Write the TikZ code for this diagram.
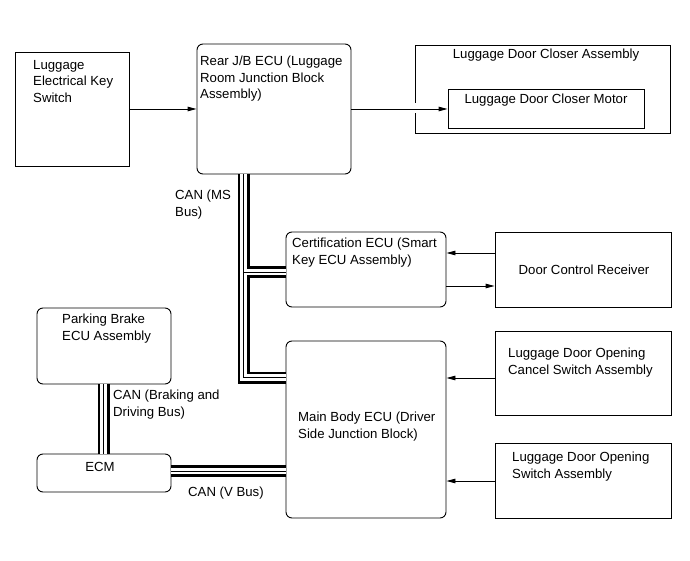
\documentclass[tikz,border=0pt]{standalone}
\usepackage{fontspec}
\setmainfont{Liberation Sans}
\usetikzlibrary{arrows.meta,calc}
\begin{document}
\begin{tikzpicture}[x=1pt,y=-1pt,
  box/.style={draw=black, line width=0.9pt, inner sep=0pt, minimum width=#1},
  rbox/.style={box=#1, rounded corners=6pt},
  txt/.style={inner sep=0pt, align=left, anchor=north west, font=\fontsize{13.2}{16.5}\selectfont},
  ctxt/.style={inner sep=0pt, align=center, anchor=center, font=\fontsize{13.2}{16.5}\selectfont},
  arr/.style={draw=black, line width=0.9pt, -{Triangle[length=9pt,width=4.5pt]}},
  busA/.style={draw=black, line width=12pt},
  busB/.style={draw=white, line width=6.5pt},
  busC/.style={draw=black, line width=0.9pt}
]
\useasboundingbox[fill=white] (0,0) rectangle (690,561);

% boxes
\node[box=114pt, minimum height=114pt] (leks) at (72,109) {};
\node[rbox=154pt, minimum height=130pt] (rear) at (274,109) {};
\node[box=255pt, minimum height=88pt] (ldca) at (542.5,89) {};
\node[box=196pt, minimum height=39pt] (motor) at (546,108.5) {};
\node[rbox=160pt, minimum height=75pt] (cert) at (366,269.5) {};
\node[box=176pt, minimum height=75pt] (dcr) at (583,269.5) {};
\node[rbox=160pt, minimum height=177pt] (main) at (366,429.5) {};
\node[box=176pt, minimum height=84pt] (cancel) at (583,373) {};
\node[box=176pt, minimum height=75pt] (opensw) at (583,480.5) {};
\node[rbox=134pt, minimum height=76pt] (pb) at (104,346) {};
\node[rbox=134pt, minimum height=38pt] (ecm) at (104,473) {};

% texts
\node[txt] (leksT) at (33,60) {Luggage\\Electrical Key\\Switch};
\node[txt] (rearT) at (200,56) {Rear J/B ECU (Luggage\\Room Junction Block\\Assembly)};
\node[ctxt] (ldcaT) at (546,55) {Luggage Door Closer Assembly};
\node[ctxt] (motorT) at (546,100) {Luggage Door Closer Motor};
\node[txt] (certT) at (292,238) {Certification ECU (Smart\\Key ECU Assembly)};
\node[ctxt] (dcrT) at (584,269.5) {Door Control Receiver};
\node[txt] (mainT) at (298,412) {Main Body ECU (Driver\\Side Junction Block)};
\node[txt] (cancelT) at (508,348) {Luggage Door Opening\\Cancel Switch Assembly};
\node[txt] (openT) at (512,452) {Luggage Door Opening\\Switch Assembly};
\node[txt] (pbT) at (62,314) {Parking Brake\\ECU Assembly};
\node[ctxt] (ecmT) at (100,467) {ECM};
\node[txt] (msT) at (175,190) {CAN (MS\\Bus)};
\node[txt] (bdT) at (113,390) {CAN (Braking and\\Driving Bus)};
\node[txt] (vT) at (188,487) {CAN (V Bus)};

% bus coordinates
\coordinate (msx) at (243.5,377.5);
\coordinate (certy) at (243.5,272);
\coordinate (pbx) at (103.5,420);
\coordinate (vy) at (200,471);

% buses: three passes
\foreach \st in {busA,busB,busC}{
  \draw[\st] (rear.south -| msx) -- (msx) -- (main.west |- msx);
  \draw[\st] (certy) -- (cert.west |- certy);
  \draw[\st] (pb.south -| pbx) -- (ecm.north -| pbx);
  \draw[\st] (ecm.east |- vy) -- (main.west |- vy);
}

% gap in closer assembly border
\draw[white, line width=2pt] ($(ldca.west |- motor.west)+(0,-5)$) -- ($(ldca.west |- motor.west)+(0,5)$);

% arrows
\draw[arr] (leks.east |- 0,109) -- (rear.west |- 0,109);
\draw[arr] (rear.east |- 0,109) -- (motor.west |- 0,109);
\draw[arr] (dcr.west |- 0,253) -- (cert.east |- 0,253);
\draw[arr] (cert.east |- 0,286) -- (dcr.west |- 0,286);
\draw[arr] (cancel.west |- 0,378) -- (main.east |- 0,378);
\draw[arr] (opensw.west |- 0,481) -- (main.east |- 0,481);
\end{tikzpicture}
\end{document}
